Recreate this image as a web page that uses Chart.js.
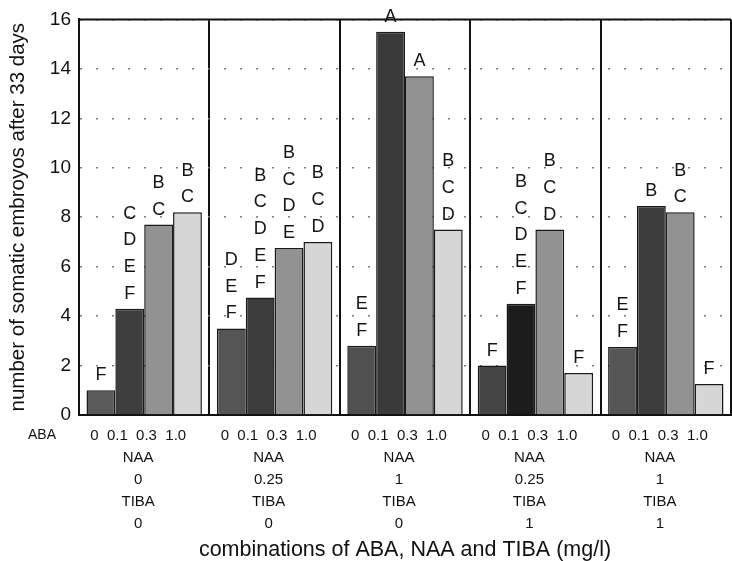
<!DOCTYPE html>
<html>
<head>
<meta charset="utf-8">
<script src="https://cdn.jsdelivr.net/npm/chart.js@4.4.1/dist/chart.umd.min.js"></script>
<style>
  html, body { margin: 0; padding: 0; background: #fff; }
  #wrap { width: 732px; height: 561px; position: relative; }
</style>
</head>
<body>
<div id="wrap"><canvas id="chart"></canvas></div>
<script>
// values (mean number of embryos), one array per ABA level
const abaTicks = ['0', '0.1', '0.3', '1.0'];
const naaValues = ['0', '0.25', '1', '0.25', '1'];
const tibaValues = ['0', '0', '0', '1', '1'];

const aba0 = [1.0, 3.5, 2.8, 2.0, 2.75];
const aba01 = [4.3, 4.75, 15.5, 4.5, 8.45];
const aba03 = [7.7, 6.75, 13.7, 7.5, 8.2];
const aba10 = [8.2, 7.0, 7.5, 1.7, 1.25];

// significance letters above each bar
const letters0 = ['F', 'D E F', 'E F', 'F', 'E F'];
const letters01 = ['C D E F', 'B C D E F', 'A', 'B C D E F', 'B'];
const letters03 = ['B C', 'B C D E', 'A', 'B C D', 'B C'];
const letters10 = ['B C', 'B C D', 'B C D', 'F', 'F'];

const yMin = 0;
const yMax = 16;
const yStep = 2;

const FONT = 'Arial, "Liberation Sans", Helvetica, sans-serif';

const abaRow = abaTicks[0] + '  ' + abaTicks[1] + '  ' + abaTicks[2] + '  ' + abaTicks[3];
const labels = naaValues.map((n, i) => [abaRow, 'NAA', n, 'TIBA', tibaValues[i]]);
const letterSets = [letters0, letters01, letters03, letters10];

const lettersPlugin = {
    id: 'letters',
    afterDatasetsDraw(chart) {
        const ctx = chart.ctx;
        ctx.save();
        ctx.font = '18px ' + FONT;
        ctx.fillStyle = '#141414';
        ctx.textAlign = 'center';
        ctx.textBaseline = 'middle';
        chart.data.datasets.forEach((ds, i) => {
            chart.getDatasetMeta(i).data.forEach((bar, j) => {
                const col = letterSets[i][j].split(' ').reverse();
                col.forEach((ch, k) => {
                    ctx.fillText(ch, bar.x, bar.y - 15 - k * 26.7);
                });
            });
        });
        ctx.restore();
    }
};

const framePlugin = {
    id: 'frame',
    afterDraw(chart) {
        const ctx = chart.ctx;
        const a = chart.chartArea;
        ctx.save();
        ctx.strokeStyle = '#111';
        ctx.lineWidth = 2;
        ctx.beginPath();
        ctx.moveTo(a.left, a.top);
        ctx.lineTo(a.right, a.top);
        ctx.stroke();
        // row title for the ABA concentrations
        ctx.font = '14px ' + FONT;
        ctx.fillStyle = '#111';
        ctx.textAlign = 'center';
        ctx.textBaseline = 'middle';
        ctx.fillText('ABA', 42, a.bottom + 20);
        ctx.restore();
    }
};

const ctx = document.getElementById('chart').getContext('2d');
new Chart(ctx, {
    type: 'bar',
    data: {
        labels: labels,
        datasets: [
            {
                label: 'ABA 0',
                data: aba0,
                backgroundColor: ['#5a5a5a', '#555555', '#505050', '#454545', '#555555'],
            },
            {
                label: 'ABA 0.1',
                data: aba01,
                backgroundColor: ['#3e3e3e', '#3c3c3c', '#3a3a3a', '#1c1c1c', '#3c3c3c'],
            },
            {
                label: 'ABA 0.3',
                data: aba03,
                backgroundColor: '#929292',
            },
            {
                label: 'ABA 1.0',
                data: aba10,
                backgroundColor: '#d6d6d6',
            }
        ]
    },
    options: {
        responsive: true,
        maintainAspectRatio: false,
        animation: false,
        layout: { padding: { top: 18, right: 1, left: 0, bottom: 0 } },
        datasets: {
            bar: {
                categoryPercentage: 0.885,
                barPercentage: 1.0,
                borderColor: '#1a1a1a',
                borderWidth: 1.5,
                borderSkipped: 'bottom'
            }
        },
        plugins: {
            legend: { display: false },
            tooltip: { enabled: false }
        },
        scales: {
            x: {
                grid: {
                    offset: true,
                    color: '#111',
                    lineWidth: 2,
                    drawTicks: false
                },
                border: { color: '#111', width: 2 },
                ticks: {
                    color: '#111',
                    font: { family: FONT, size: 15, lineHeight: 1.47 },
                    padding: 10,
                    labelOffset: -6,
                    maxRotation: 0,
                    autoSkip: false
                },
                title: {
                    display: true,
                    text: 'combinations of ABA, NAA and TIBA (mg/l)',
                    color: '#111',
                    font: { family: FONT, size: 21.5, lineHeight: 1 },
                    padding: { top: 0, bottom: 0 }
                },
                afterFit(scale) { scale.height = 146; }
            },
            y: {
                min: yMin,
                max: yMax,
                grid: {
                    color: '#7a7a7a',
                    lineWidth: 1.5,
                    drawTicks: false
                },
                border: { color: '#111', width: 2, dash: [2, 14] },
                ticks: {
                    stepSize: yStep,
                    color: '#111',
                    font: { family: FONT, size: 19 },
                    padding: 8
                },
                title: {
                    display: true,
                    text: 'number of somatic embroyos after 33 days',
                    color: '#111',
                    font: { family: FONT, size: 20.5 },
                    padding: { top: 6, bottom: 0 }
                },
                afterFit(scale) { scale.width = 79; }
            }
        }
    },
    plugins: [lettersPlugin, framePlugin]
});
</script>
</body>
</html>
